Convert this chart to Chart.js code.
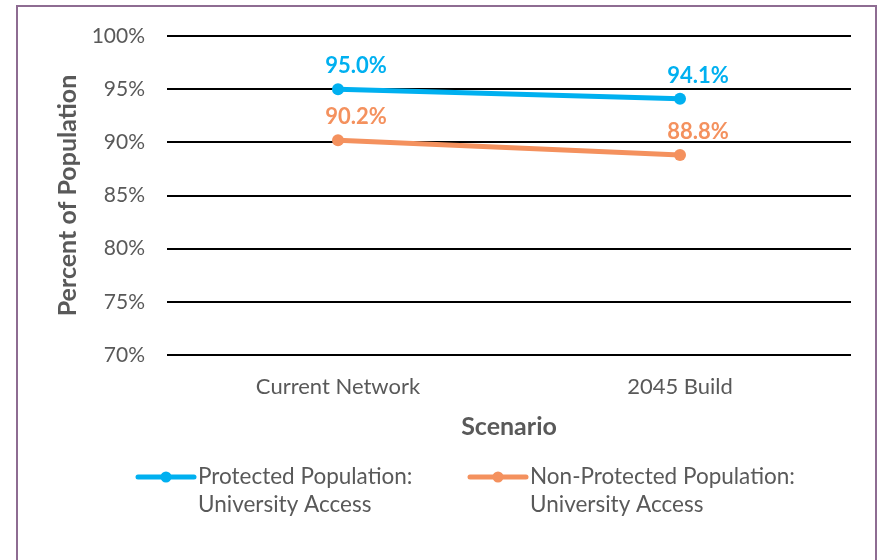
<!DOCTYPE html>
<html>
<head>
<meta charset="utf-8">
<script src="https://cdn.jsdelivr.net/npm/chart.js@4.4.1/dist/chart.umd.min.js"></script>
<style>
  html, body { margin: 0; padding: 0; background: #fff; overflow: hidden; }
  #frame {
    position: absolute; left: 16px; top: 5px; width: 861px; height: 600px;
    border: 2px solid #8e6c92; box-sizing: border-box;
  }
  #wrap { position: absolute; left: 0; top: 0; width: 884px; height: 560px; }
</style>
</head>
<body>
<div id="frame"></div>
<div id="wrap"><canvas id="scenarioChart" width="884" height="560"></canvas></div>
<script>
// Scenario comparison data
const scenarios = ['Current Network', '2045 Build'];
const protectedAccess = [95.0, 94.1];
const nonProtectedAccess = [90.2, 88.8];
const seriesNames = [
  ['Protected Population:', 'University Access'],
  ['Non-Protected Population:', 'University Access']
];
const yTicks = [70, 75, 80, 85, 90, 95, 100];

const FONT = 'Lato, "Open Sans", sans-serif';
const TEXT = '#595959';
const BLUE = '#00b0f0';
const ORANGE = '#f4915e';

// value labels above each point
const pointLabels = {
  id: 'pointLabels',
  afterDatasetsDraw(chart) {
    const ctx = chart.ctx;
    ctx.save();
    ctx.font = 'bold 22px ' + FONT;
    ctx.textAlign = 'center';
    ctx.textBaseline = 'middle';
    chart.data.datasets.forEach((ds, i) => {
      chart.getDatasetMeta(i).data.forEach((pt, j) => {
        ctx.fillStyle = ds.borderColor;
        ctx.fillText(ds.data[j].toFixed(1) + '%', pt.x + 18, pt.y - 23);
      });
    });
    ctx.restore();
  }
};

// two-line legend under the axis title
const bottomLegend = {
  id: 'bottomLegend',
  afterDraw(chart) {
    const ctx = chart.ctx;
    const starts = [138, 470];
    const y = 477;
    ctx.save();
    chart.data.datasets.forEach((ds, i) => {
      const x = starts[i];
      ctx.strokeStyle = ds.borderColor;
      ctx.lineWidth = 5;
      ctx.lineCap = 'round';
      ctx.beginPath();
      ctx.moveTo(x, y);
      ctx.lineTo(x + 56, y);
      ctx.stroke();
      ctx.fillStyle = ds.borderColor;
      ctx.beginPath();
      ctx.arc(x + 28, y, 5.5, 0, Math.PI * 2);
      ctx.fill();
      ctx.fillStyle = TEXT;
      ctx.font = '22.5px ' + FONT;
      ctx.textAlign = 'left';
      ctx.textBaseline = 'middle';
      seriesNames[i].forEach((line, k) => ctx.fillText(line, x + 60, y + k * 28));
    });
    ctx.restore();
  }
};

new Chart(document.getElementById('scenarioChart').getContext('2d'), {
  type: 'line',
  data: {
    labels: scenarios,
    datasets: [{
      label: seriesNames[0].join(' '),
      data: protectedAccess,
      borderColor: BLUE,
      backgroundColor: BLUE,
      borderWidth: 5,
      pointRadius: 6,
      pointBorderWidth: 0,
      tension: 0
    }, {
      label: seriesNames[1].join(' '),
      data: nonProtectedAccess,
      borderColor: ORANGE,
      backgroundColor: ORANGE,
      borderWidth: 5,
      pointRadius: 6,
      pointBorderWidth: 0,
      tension: 0
    }]
  },
  options: {
    responsive: false,
    animation: false,
    layout: { padding: { left: 53, right: 33, top: 36, bottom: 118 } },
    plugins: {
      legend: { display: false },
      tooltip: { enabled: false }
    },
    scales: {
      x: {
        offset: true,
        grid: { display: false, drawTicks: false },
        border: { display: false },
        ticks: { color: TEXT, font: { family: FONT, size: 22 }, padding: 19 },
        title: {
          display: true, text: 'Scenario', color: TEXT,
          font: { family: FONT, size: 25, weight: 'bold' },
          padding: { top: 4, bottom: 0 }
        },
        afterFit(scale) { scale.height = 87; }
      },
      y: {
        min: 70,
        max: 100,
        afterBuildTicks(scale) { scale.ticks = yTicks.map(v => ({ value: v })); },
        grid: { color: '#000', lineWidth: 2, drawTicks: false },
        border: { display: false },
        ticks: {
          color: TEXT, font: { family: FONT, size: 21 }, padding: 22,
          callback: v => v + '%'
        },
        title: {
          display: true, text: 'Percent of Population', color: TEXT,
          font: { family: FONT, size: 25, weight: 'bold' },
          padding: { top: 0, bottom: 0 }
        },
        afterFit(scale) { scale.width = 114; }
      }
    }
  },
  plugins: [pointLabels, bottomLegend]
});
</script>
</body>
</html>
